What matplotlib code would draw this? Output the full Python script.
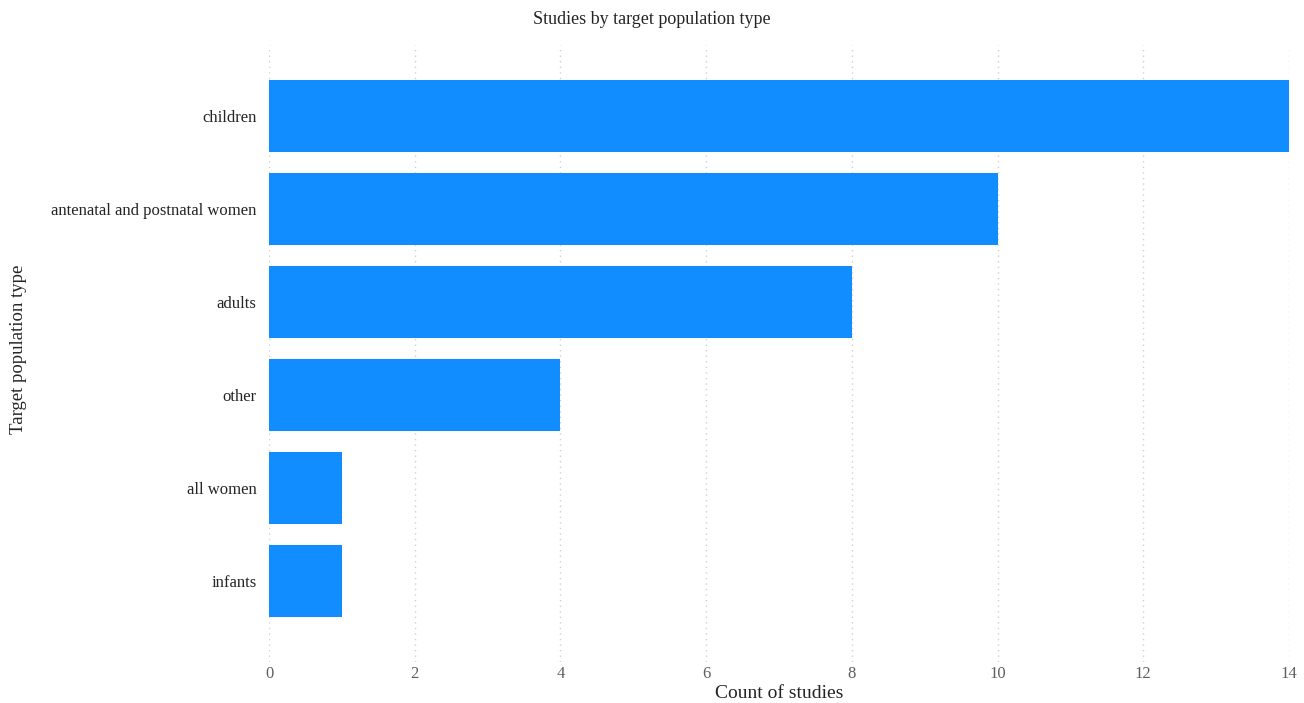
import numpy as np
import matplotlib
matplotlib.use("Agg")
import matplotlib.pyplot as plt

categories = ["children", "antenatal and postnatal women", "adults", "other", "all women", "infants"]
counts = [14, 10, 8, 4, 1, 1]
xticks = [0, 2, 4, 6, 8, 10, 12, 14]

plt.rcParams['font.family'] = ['Liberation Serif', 'DejaVu Serif']

W, H = 1304, 703

def main():
  fig = plt.figure(figsize=(W/100, H/100), dpi=100)
  # axes placed in pixel coordinates
  left, right, top, bottom = 269, 1289, 45, 662
  ax = fig.add_axes([left/W, 1 - bottom/H, (right-left)/W, (bottom-top)/H])

  y = np.arange(len(categories))
  ax.barh(y, counts, height=0.774, color='#118DFF', zorder=2)
  ax.set_ylim(5.871, -0.763)
  ax.set_xlim(0, 14)
  ax.set_yticks(y)
  ax.set_yticklabels(categories, fontsize=12, color='#252423')
  ax.set_xticks(xticks)
  ax.set_xticklabels([str(t) for t in xticks], fontsize=12, color='#605E5C')
  ax.tick_params(length=0)
  ax.tick_params(axis='y', pad=9)
  ax.tick_params(axis='x', pad=3)

  ax.grid(axis='x', color='#D0D0D0', linestyle=(0, (1, 3)), linewidth=1, zorder=0)
  for s in ax.spines.values():
    s.set_visible(False)

  ax.set_xlabel("Count of studies", fontsize=14, color='#252423', labelpad=2)
  fig.text(19/W, 1 - 349/H, "Target population type", rotation=90, fontsize=13.5,
           color='#252423', ha='center', va='center')
  fig.text(652/W, 1 - 19/H, "Studies by target population type", fontsize=13,
           color='#252423', ha='center', va='center')

  fig.savefig("out.png", dpi=100)

if __name__ == '__main__':
  main()
